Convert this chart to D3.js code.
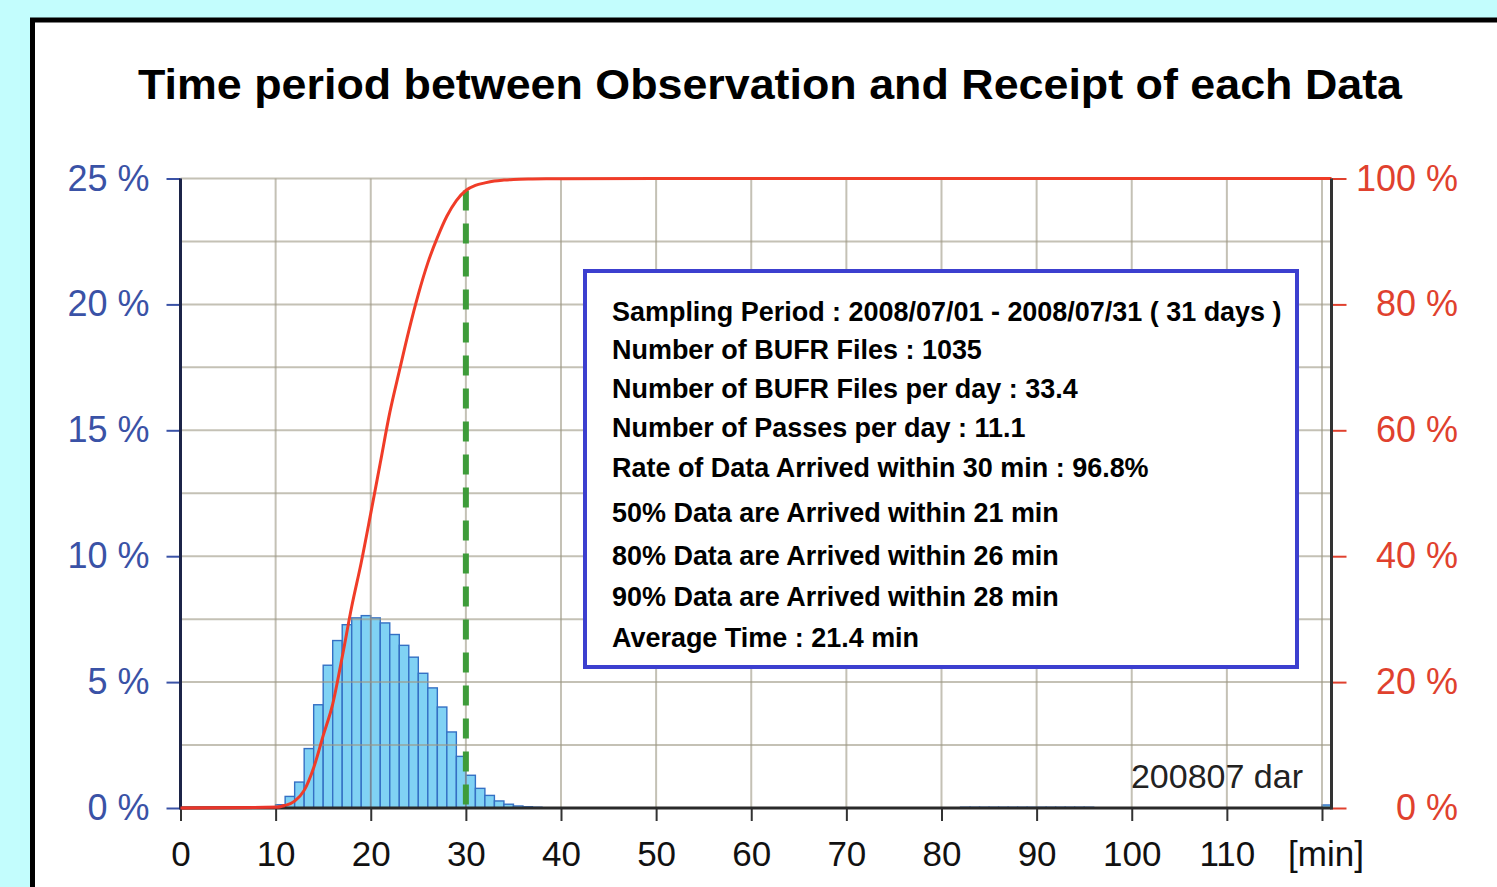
<!DOCTYPE html>
<html lang="en">
<head>
  <meta charset="utf-8">
  <title>Time period between Observation and Receipt of each Data</title>
  <script src="https://d3js.org/d3.v7.min.js" charset="utf-8"></script>
  <style>
    html, body { margin: 0; padding: 0; background: #c3fdfd; overflow: hidden; }
    svg { display: block; }
    text { font-family: "Liberation Sans", Arial, Helvetica, sans-serif; }
  </style>
</head>
<body>
  <div id="chart"></div>
  <script type="text/javascript">
    // histogram: share of data per 1-minute bin (left axis, %)
    var binStart = [10, 11, 12, 13, 14, 15, 16, 17, 18, 19, 20, 21, 22, 23, 24, 25, 26, 27, 28, 29,
      30, 31, 32, 33, 34, 35, 36, 37,
      82, 83, 84, 85, 86, 87, 88, 89, 90, 91, 92, 93, 94, 95, 120];
    var binPct = [0.13, 0.46, 1.03, 2.36, 4.1, 5.67, 6.65, 7.28, 7.55, 7.64, 7.55, 7.35, 6.89, 6.46, 5.99, 5.35, 4.77, 4.01, 3.02, 2.05,
      1.3, 0.78, 0.5, 0.28, 0.15, 0.08, 0.05, 0.03,
      0.03, 0.03, 0.03, 0.03, 0.03, 0.03, 0.03, 0.03, 0.03, 0.03, 0.03, 0.03, 0.03, 0.03, 0.12];

    // cumulative curve (right axis, %)
    var cumMin = [0, 10, 11, 12, 13, 14, 15, 16, 17, 18, 19, 20, 21, 22, 23, 24, 25, 26, 27, 28, 29,
      30, 31, 32, 33, 34, 35, 37, 40, 50, 121];
    var cumPct = [0, 0.1, 0.4, 1.1, 2.8, 6.4, 11.5, 16.5, 24, 32, 39, 46.8, 54.8, 62.8, 69.4, 75.8, 81.6, 86.6, 90.6, 94, 96.5,
      98.1, 98.9, 99.3, 99.6, 99.75, 99.85, 99.92, 99.96, 100, 100];

    var xTicks = [0, 10, 20, 30, 40, 50, 60, 70, 80, 90, 100, 110, 120];
    var xLabels = ["0", "10", "20", "30", "40", "50", "60", "70", "80", "90", "100", "110", ""];
    var xGrid = [10, 20, 30, 40, 50, 60, 70, 80, 90, 100, 110, 120];
    var leftTicks = [0, 5, 10, 15, 20, 25];
    var leftGrid = [2.5, 5, 7.5, 10, 12.5, 15, 17.5, 20, 22.5, 25];
    var rightTicks = [0, 20, 40, 60, 80, 100];
    var markMin = 30;

    var title = "Time period between Observation and Receipt of each Data";
    var stamp = "200807 dar";
    var infoLines = [
      "Sampling Period : 2008/07/01 - 2008/07/31 ( 31 days )",
      "Number of BUFR Files : 1035",
      "Number of BUFR Files per day : 33.4",
      "Number of Passes per day : 11.1",
      "Rate of Data Arrived within 30 min : 96.8%",
      "50% Data are Arrived within 21 min",
      "80% Data are Arrived within 26 min",
      "90% Data are Arrived within 28 min",
      "Average Time : 21.4 min"
    ];
    var infoBaseline = [321, 359, 398, 437, 477, 522, 565, 606, 647];

    var W = 1497, H = 887;
    var svg = d3.select("#chart").append("svg")
      .attr("width", W)
      .attr("height", H);

    // panel with thick black frame
    svg.append("rect")
      .attr("x", 32.5).attr("y", 20)
      .attr("width", 1520).attr("height", 920)
      .attr("fill", "#fff")
      .attr("stroke", "#000")
      .attr("stroke-width", 5);

    svg.append("text")
      .attr("x", 770).attr("y", 99)
      .attr("text-anchor", "middle")
      .attr("font-size", 43)
      .attr("font-weight", "bold")
      .attr("fill", "#000")
      .attr("textLength", 1264)
      .attr("lengthAdjust", "spacingAndGlyphs")
      .text(title);

    var x = d3.scaleLinear().domain([0, 121]).range([180.5, 1331.5]);
    var yL = d3.scaleLinear().domain([0, 25]).range([808, 178.5]);
    var yR = d3.scaleLinear().domain([0, 100]).range([808, 178.5]);

    // bars
    svg.append("g").selectAll("rect")
      .data(binStart)
      .join("rect")
      .attr("x", d => x(d))
      .attr("width", d => x(d + 1) - x(d))
      .attr("y", (d, i) => yL(binPct[i]))
      .attr("height", (d, i) => yL(0) - yL(binPct[i]))
      .attr("fill", "#80d2f4")
      .attr("stroke", "#3470c4")
      .attr("stroke-width", 1.4);

    // grid on top of bars, slightly see-through
    var grid = svg.append("g")
      .attr("stroke", "#9c9884")
      .attr("stroke-opacity", 0.6)
      .attr("stroke-width", 2);
    grid.selectAll(".gx").data(xGrid).join("line")
      .attr("class", "gx")
      .attr("x1", d => x(d)).attr("x2", d => x(d))
      .attr("y1", yL(0)).attr("y2", yL(25));
    grid.selectAll(".gy").data(leftGrid).join("line")
      .attr("class", "gy")
      .attr("x1", x(0)).attr("x2", x(121))
      .attr("y1", d => yL(d)).attr("y2", d => yL(d));

    // info box
    svg.append("rect")
      .attr("x", 585).attr("y", 271)
      .attr("width", 712).attr("height", 396)
      .attr("fill", "#fff")
      .attr("stroke", "#3c3fcf")
      .attr("stroke-width", 4);

    var info = svg.append("g").attr("transform", "translate(612,0)");
    info.selectAll("text").data(infoLines).join("text")
      .attr("x", 0)
      .attr("y", (d, i) => infoBaseline[i])
      .attr("font-size", 28)
      .attr("font-weight", "bold")
      .attr("fill", "#000")
      .text(d => d);
    var firstLen = info.select("text").node().getComputedTextLength();
    info.attr("transform", "translate(612,0) scale(" + (670 / firstLen) + ",1)");

    // 30 min marker
    svg.append("line")
      .attr("x1", x(markMin)).attr("x2", x(markMin))
      .attr("y1", yR(98.1)).attr("y2", yL(0))
      .attr("stroke", "#3e9c3a")
      .attr("stroke-width", 6)
      .attr("stroke-dasharray", "20,13");

    // cumulative curve
    var line = d3.line()
      .x((d, i) => x(cumMin[i]))
      .y(d => yR(d))
      .curve(d3.curveMonotoneX);
    svg.append("path")
      .datum(cumPct)
      .attr("d", line)
      .attr("fill", "none")
      .attr("stroke", "#f03c28")
      .attr("stroke-width", 3);

    svg.append("text")
      .attr("x", 1303).attr("y", 788)
      .attr("text-anchor", "end")
      .attr("font-size", 34)
      .attr("fill", "#222")
      .text(stamp);

    // axes
    var xAxis = svg.append("g")
      .attr("transform", "translate(0," + yL(0) + ")")
      .call(d3.axisBottom(x).tickValues(xTicks).tickSize(13).tickFormat((d, i) => xLabels[i]));
    xAxis.select(".domain").remove();
    xAxis.selectAll(".tick line").attr("stroke", "#333").attr("stroke-width", 2);
    xAxis.selectAll(".tick text")
      .attr("y", 58).attr("dy", 0)
      .attr("font-size", 35)
      .attr("font-family", "Liberation Sans, Arial, sans-serif")
      .attr("fill", "#111");

    var lAxis = svg.append("g")
      .attr("transform", "translate(" + x(0) + ",0)")
      .call(d3.axisLeft(yL).tickValues(leftTicks).tickSize(14).tickPadding(17).tickFormat(d => d + " %"));
    lAxis.select(".domain").remove();
    lAxis.selectAll(".tick line").attr("stroke", "#3a52a6").attr("stroke-width", 2);
    lAxis.selectAll(".tick text")
      .attr("font-size", 36)
      .attr("font-family", "Liberation Sans, Arial, sans-serif")
      .attr("fill", "#3a52a6");

    var rAxis = svg.append("g")
      .attr("transform", "translate(" + x(121) + ",0)")
      .call(d3.axisRight(yR).tickValues(rightTicks).tickSize(15).tickFormat(d => d + " %"));
    rAxis.select(".domain").remove();
    rAxis.selectAll(".tick line").attr("stroke", "#e0412e").attr("stroke-width", 2);
    rAxis.selectAll(".tick text")
      .attr("x", 1458 - x(121))
      .attr("text-anchor", "end")
      .attr("font-size", 36)
      .attr("font-family", "Liberation Sans, Arial, sans-serif")
      .attr("fill", "#e0412e");

    // axis lines
    svg.append("line")
      .attr("x1", x(0)).attr("x2", x(121))
      .attr("y1", yL(0)).attr("y2", yL(0))
      .attr("stroke", "#2a2a2a").attr("stroke-width", 3);
    svg.append("line")
      .attr("x1", x(0)).attr("x2", x(0))
      .attr("y1", yL(0) + 1.5).attr("y2", yL(25))
      .attr("stroke", "#1c2448").attr("stroke-width", 3);
    svg.append("line")
      .attr("x1", x(121)).attr("x2", x(121))
      .attr("y1", yL(0) + 1.5).attr("y2", yL(25))
      .attr("stroke", "#333").attr("stroke-width", 3);

    // redraw flat start of the curve over the axis
    svg.append("path")
      .datum(cumPct.slice(0, 3))
      .attr("d", line)
      .attr("fill", "none")
      .attr("stroke", "#e8352a")
      .attr("stroke-width", 3);

    svg.append("text")
      .attr("x", 1326).attr("y", 866)
      .attr("text-anchor", "middle")
      .attr("font-size", 35)
      .attr("fill", "#111")
      .text("[min]");
  </script>
</body>
</html>
